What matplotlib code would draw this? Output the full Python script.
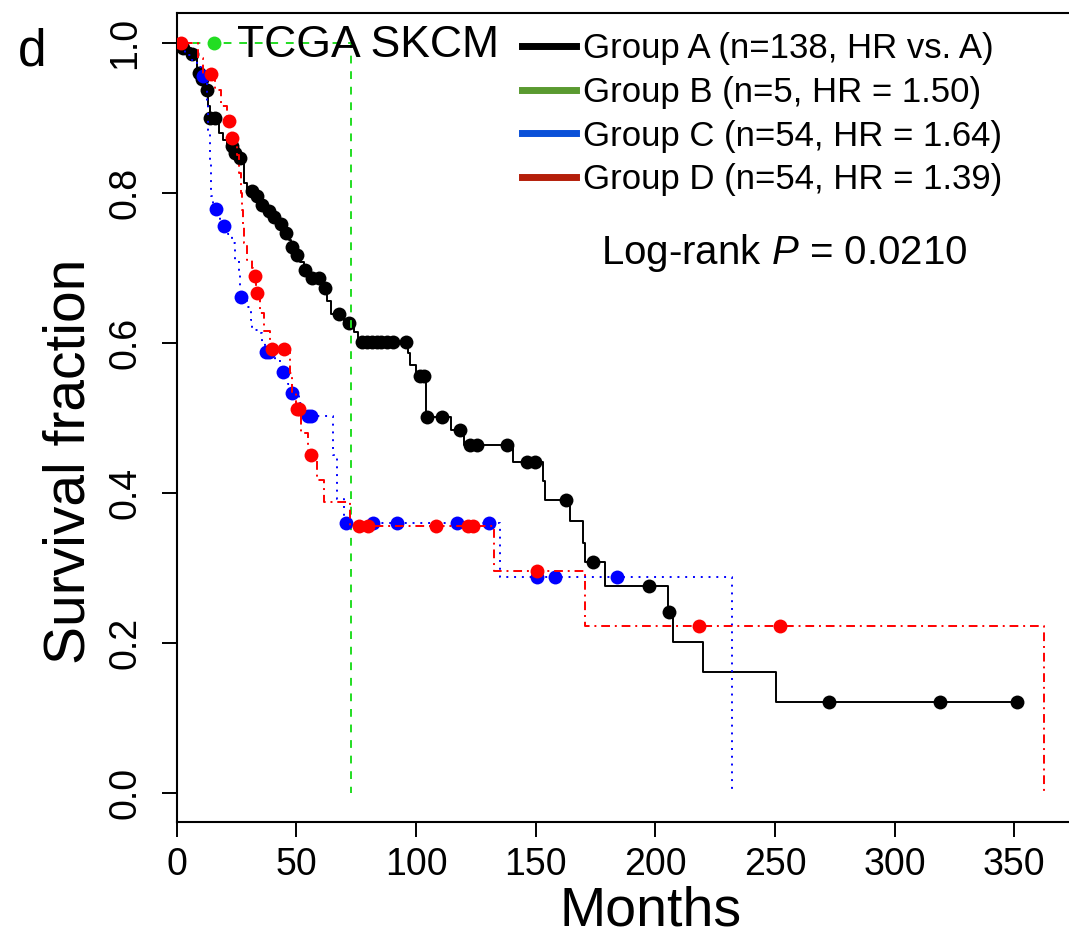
import numpy as np
import matplotlib
matplotlib.use('Agg')
import matplotlib.pyplot as plt
from matplotlib.lines import Line2D

plt.rcParams['font.family'] = ['Liberation Sans', 'DejaVu Sans']
plt.rcParams['mathtext.fontset'] = 'custom'
plt.rcParams['mathtext.rm'] = 'Liberation Sans'
plt.rcParams['mathtext.it'] = 'Liberation Sans:italic'

# Group A (black): event times (months) and survival after each step
a_time = [2, 6, 8.5, 10, 12, 13.2, 13.8, 17.5, 19.5, 21, 24, 26, 28, 29.5, 33,
          35, 38, 40, 43, 45, 47, 47.8, 49.5, 51.5, 53, 55, 60.5, 63, 64.5, 70,
          74.3, 75.7, 96.5, 97.5, 100, 104.2, 114.5, 120, 140.5, 153, 154, 164.3,
          169.9, 170.6, 179, 205.4, 207.3, 219.8, 250.4]
a_surv = [0.993, 0.985, 0.96, 0.952, 0.937, 0.915, 0.899, 0.879, 0.870, 0.862,
          0.853, 0.846, 0.8125, 0.802, 0.795, 0.784, 0.775, 0.767, 0.758, 0.746,
          0.737, 0.728, 0.717, 0.707, 0.697, 0.686, 0.673, 0.655, 0.638, 0.626,
          0.614, 0.601, 0.586, 0.570, 0.555, 0.501, 0.484, 0.464, 0.441, 0.415,
          0.390, 0.362, 0.333, 0.307, 0.276, 0.241, 0.201, 0.161, 0.121]
a_cens = [2.5, 6.5, 9.3, 10.6, 12.7, 14, 16.1, 23.1, 24.5, 26.6, 31.5, 33.6, 35.6,
          38.4, 40.5, 43.5, 45.5, 48.1, 50.1, 53.6, 56.4, 59.6, 62, 67.9, 72.1,
          77.5, 79.5, 81.5, 83.5, 85.5, 87.8, 90.5, 96.0, 101.7, 103.5, 104.8,
          110.9, 118.4, 122.6, 125.6, 137.9, 146.3, 149.7, 162.7, 173.8, 197.5,
          205.8, 272.7, 319, 351]

# Group B (green)
b_time = [73]
b_surv = [0.0]
b_cens = [15.6]

# Group C (blue)
c_time = [3.5, 6, 8.5, 11, 12, 12.5, 13, 13.8, 14.3, 15, 18, 21.5, 23, 24.5, 26,
          26.5, 29.5, 31, 31.5, 34, 35.5, 37, 41, 43.5, 46.5, 47.5, 51, 53, 65.4,
          66.9, 69.8, 135.1, 232]
c_surv = [0.983, 0.977, 0.968, 0.955, 0.946, 0.92, 0.883, 0.84, 0.795, 0.778,
          0.756, 0.745, 0.733, 0.71, 0.693, 0.661, 0.648, 0.63, 0.617, 0.6125,
          0.60, 0.588, 0.575, 0.561, 0.545, 0.533, 0.52, 0.502, 0.45, 0.392,
          0.359, 0.287, 0.0]
c_cens = [11.1, 16.4, 19.6, 27, 37.3, 38.7, 44.5, 48.1, 54.8, 56.3, 70.8, 81.9,
          91.9, 117, 130.6, 150.4, 158.1, 184]

# Group D (red)
d_time = [9, 11, 16, 18.5, 21, 22.5, 25, 26, 26.8, 27.2, 27.8, 28.3, 29.5, 31.3,
          32, 33.2, 35, 36.5, 39, 47.5, 48, 50, 52, 55, 58.5, 61.6, 72.4, 132.7,
          170.6, 362.6]
d_surv = [0.98, 0.958, 0.937, 0.915, 0.895, 0.8725, 0.85, 0.826, 0.80, 0.777,
          0.755, 0.733, 0.71, 0.70, 0.689, 0.666, 0.64, 0.615, 0.591, 0.56, 0.533,
          0.511, 0.48, 0.45, 0.417, 0.387, 0.355, 0.296, 0.222, 0.0]
d_cens = [2, 14.5, 21.7, 23.1, 32.7, 33.4, 39.7, 44.8, 50.4, 51.2, 56, 76.3, 80.1,
          108.4, 121.9, 124, 150.4, 218.4, 252.1]

labels = ['Group A (n=138, HR vs. A)', 'Group B (n=5, HR = 1.50)',
          'Group C (n=54, HR = 1.64)', 'Group D (n=54, HR = 1.39)']
x_ticks = [0, 50, 100, 150, 200, 250, 300, 350]
y_ticks = [0.0, 0.2, 0.4, 0.6, 0.8, 1.0]

W, H = 1069, 942
fig = plt.figure(figsize=(W / 100, H / 100), dpi=100)

# axes box in pixels (right edge runs off the picture)
L, R, B, T = 176.7, 1072, 821.7, 13
ax = fig.add_axes([L / W, 1 - B / H, (R - L) / W, (B - T) / H])
ax.set_xlim(0, (R - L) / 2.393)
ax.set_ylim(-0.0387, 1.0396)


def km_curve(ax, times, surv, cens, color, ls, z):
    t = np.concatenate([[0], times])
    s = np.concatenate([[1.0], surv])
    if max(cens) > t[-1]:
        t = np.append(t, max(cens))
        s = np.append(s, s[-1])
    ax.step(t, s, where='post', color=color, lw=1.4, linestyle=ls, zorder=z)
    idx = np.searchsorted(np.concatenate([[0], times]), cens, side='right') - 1
    cy = np.concatenate([[1.0], surv])[idx]
    ax.plot(cens, cy, 'o', color=color, ms=10, mec='none', zorder=z + 0.5)


km_curve(ax, a_time, a_surv, a_cens, 'black', '-', 2)
km_curve(ax, b_time, b_surv, b_cens, '#22dd22', (0, (4, 4)), 3)
km_curve(ax, c_time, c_surv, c_cens, '#0000ff', (0, (1, 3)), 4)
km_curve(ax, d_time, d_surv, d_cens, '#ff0000', (0, (1, 2.5, 4.5, 2.5)), 5)

ax.set_xticks(x_ticks)
ax.set_yticks(y_ticks)
ax.set_yticklabels([f'{v:.1f}' for v in y_ticks], rotation=90, va='center')
ax.tick_params(axis='both', length=11, width=1.4, labelsize=27, direction='out')
ax.tick_params(axis='x', pad=7)
ax.tick_params(axis='y', pad=13)
for sp in ax.spines.values():
    sp.set_linewidth(1.5)

ax.set_xlabel('Months', fontsize=40)
ax.xaxis.set_label_coords((651 - L) / (R - L), (B - 886) / (B - T))
ax.set_ylabel('Survival fraction', fontsize=41)
ax.yaxis.set_label_coords((97 - L) / (R - L), (B - 461) / (B - T))

handles = [Line2D([], [], color=c, lw=5) for c in
           ['black', '#5a9a30', '#0a50d8', '#b41e0a']]
ax.legend(handles, labels, loc='upper left', fontsize=25, frameon=False,
          bbox_to_anchor=(522 / W, 1 - 32 / H), bbox_transform=fig.transFigure,
          borderaxespad=0, borderpad=0, handlelength=1.55, handletextpad=0.22,
          labelspacing=0.31)

fig.text(784 / W, 1 - 253 / H, 'Log-rank $P$ = 0.0210', fontsize=29,
         ha='center', va='center')
fig.text(236.7 / W, 1 - 57 / H, 'TCGA SKCM', fontsize=32, va='baseline')
fig.text(18 / W, 1 - 65 / H, 'd', fontsize=37, va='baseline')

fig.savefig('out.png', dpi=100)
